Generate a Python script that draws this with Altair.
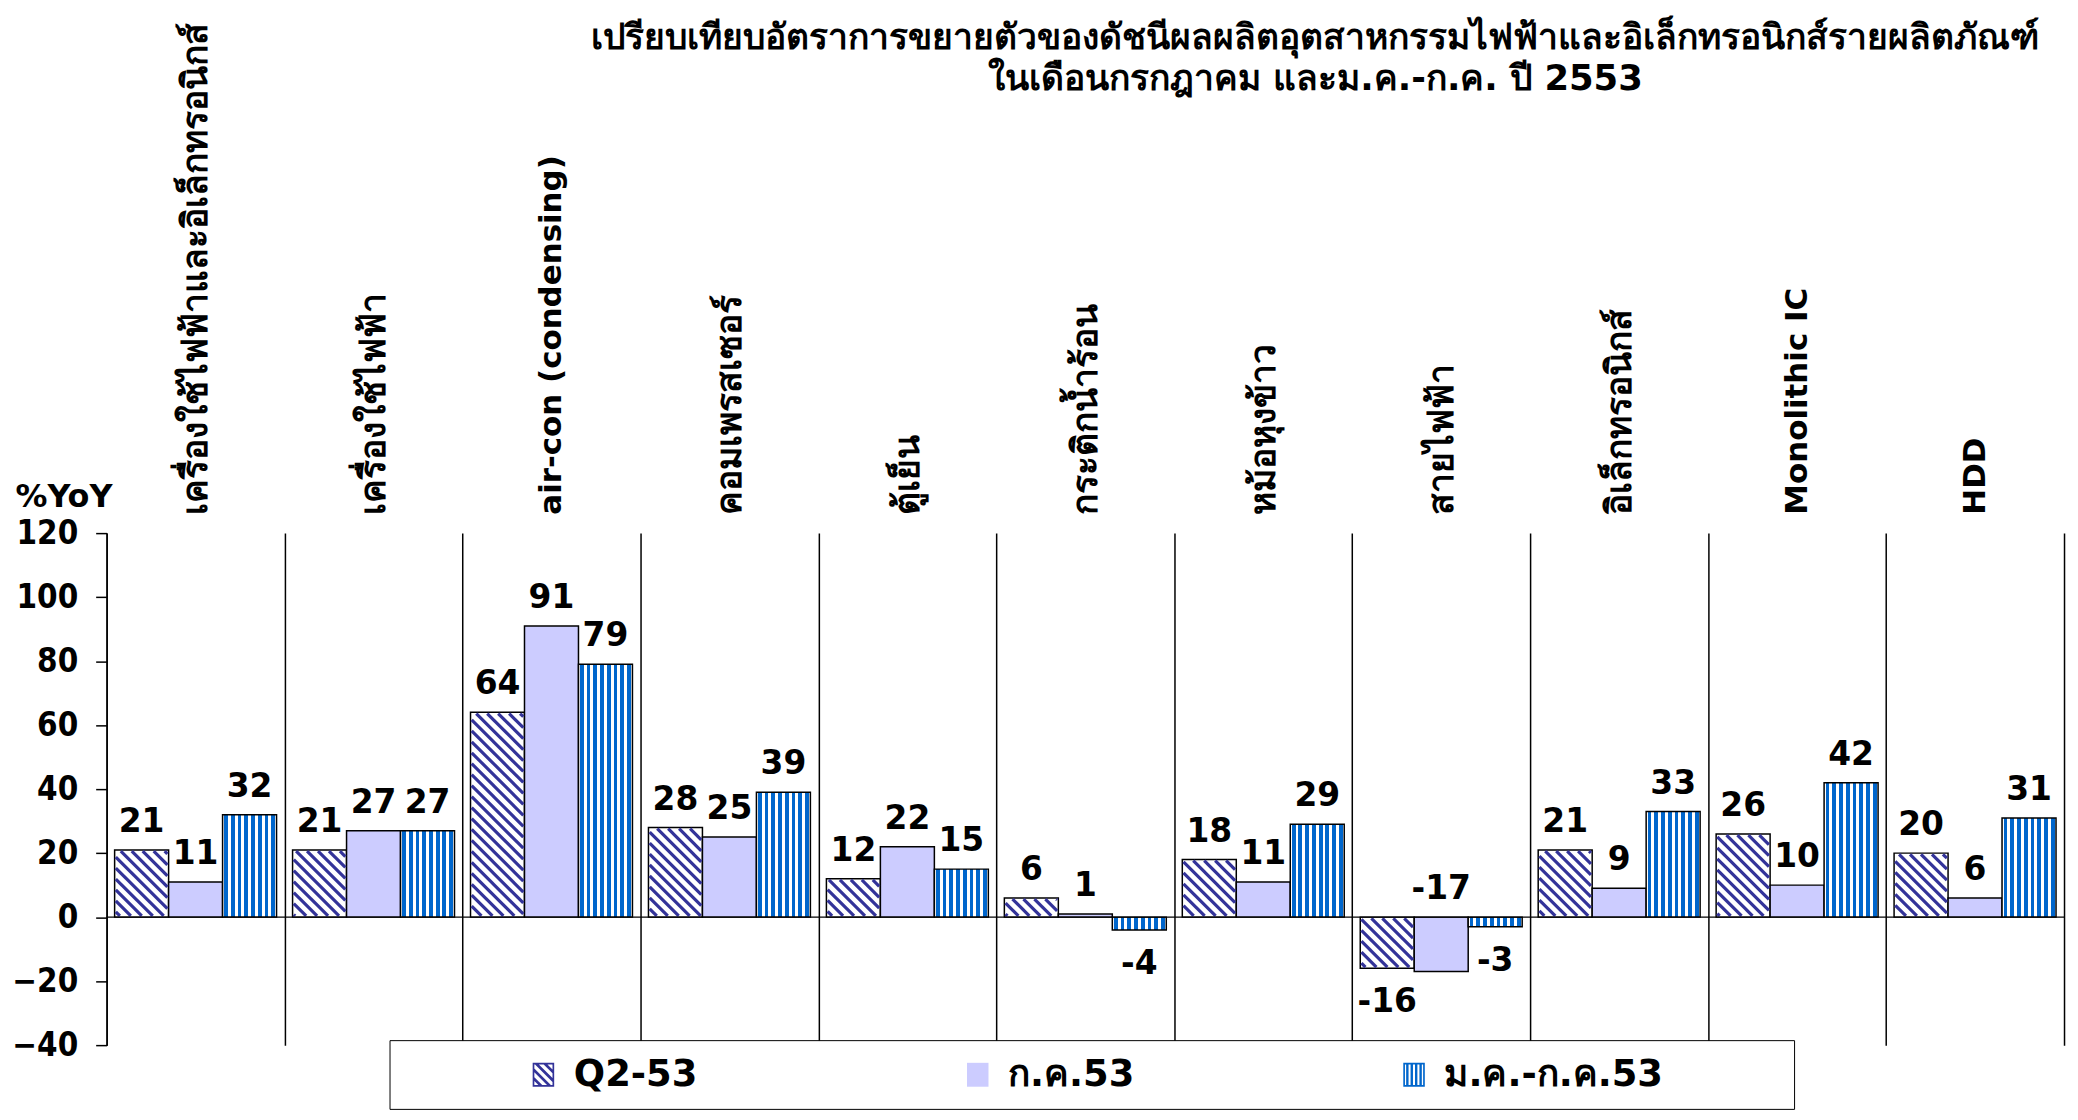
import math
import altair as alt
import pandas as pd

# ---------------- data ----------------
categories = [
    "เครื่องใช้ไฟฟ้าและอิเล็กทรอนิกส์",
    "เครื่องใช้ไฟฟ้า",
    "air-con (condensing)",
    "คอมเพรสเซอร์",
    "ตู้เย็น",
    "กระติกน้ำร้อน",
    "หม้อหุงข้าว",
    "สายไฟฟ้า",
    "อิเล็กทรอนิกส์",
    "Monolithic IC",
    "HDD",
]
series_names = ["Q2-53", "ก.ค.53", "ม.ค.-ก.ค.53"]
q2_53 = [21, 21, 64, 28, 12, 6, 18, -16, 21, 26, 20]
jul_53 = [11, 27, 91, 25, 22, 1, 11, -17, 9, 10, 6]
jan_jul_53 = [32, 27, 79, 39, 15, -4, 29, -3, 33, 42, 31]
y_ticks = [-40, -20, 0, 20, 40, 60, 80, 100, 120]
title_lines = [
    "เปรียบเทียบอัตราการขยายตัวของดัชนีผลผลิตอุตสาหกรรมไฟฟ้าและอิเล็กทรอนิกส์รายผลิตภัณฑ์",
    "ในเดือนกรกฎาคม และม.ค.-ก.ค. ปี 2553",
]
y_title = "%YoY"

# ---------------- layout / style ----------------
W, H = 1965, 514
Y_MIN, Y_MAX = -40, 120
N = len(categories)
OUTER = 0.045
BAR_W = (1 - 2 * OUTER) / 3
NAVY = "#333399"
LAVENDER = "#CCCCFF"
BLUE = "#0066CC"
NUM_FONT = "DejaVu Sans Condensed"
TXT_FONT = "DejaVu Sans"

values = [q2_53, jul_53, jan_jul_53]
rows = []
for i, cat in enumerate(categories):
    neg_count = 0
    for j, s in enumerate(series_names):
        v = values[j][i]
        x0 = i + OUTER + j * BAR_W
        above = True
        if v < 0:
            above = (neg_count % 2 == 1)
            neg_count += 1
        rows.append(dict(cat=cat, series=s, value=v, x0=x0, x1=x0 + BAR_W,
                         xc=x0 + BAR_W / 2, zero=0, label=str(v), above=above,
                         anchor=(max(v, 0) if above else v)))
df = pd.DataFrame(rows)

# diagonal hatch segments for the Q2 bars (45 deg in screen space)
sx = W / N
sy = H / (Y_MAX - Y_MIN)
PERIOD = 11.0
INSET = 1.2
hatch = []
for _, r in df[df.series == series_names[0]].iterrows():
    X0 = r.x0 * sx + INSET
    X1 = r.x1 * sx - INSET
    Yl = (min(0, r.value) - Y_MIN) * sy + INSET
    Yh = (max(0, r.value) - Y_MIN) * sy - INSET
    kmin = math.floor((X0 + Yl) / PERIOD)
    kmax = math.ceil((X1 + Yh) / PERIOD)
    for k in range(kmin, kmax + 1):
        c = k * PERIOD
        xa = max(X0, c - Yh)
        xb = min(X1, c - Yl)
        if xb - xa > 0.6:
            hatch.append(dict(hx=xa / sx, hy=(c - xa) / sy + Y_MIN,
                              hx2=xb / sx, hy2=(c - xb) / sy + Y_MIN))
hatch_df = pd.DataFrame(hatch)

# vertical stripe gradient for the third series
NSTRIPE = 8
stops = []
for k in range(NSTRIPE):
    a = k / NSTRIPE
    b1 = a + 0.22 / NSTRIPE
    b2 = a + 0.78 / NSTRIPE
    stops += [alt.GradientStop(offset=round(a, 4), color="white"),
              alt.GradientStop(offset=round(b1, 4), color="white"),
              alt.GradientStop(offset=round(b1, 4), color=BLUE),
              alt.GradientStop(offset=round(b2, 4), color=BLUE),
              alt.GradientStop(offset=round(b2, 4), color="white")]
stops.append(alt.GradientStop(offset=1, color="white"))
stripe_fill = alt.LinearGradient(gradient="linear", stops=stops, x1=0, x2=1, y1=0, y2=0)


# legend symbol shapes (custom SVG paths in the unit square)
def clip(poly, f):
    out = []
    n = len(poly)
    for idx in range(n):
        p, q = poly[idx], poly[(idx + 1) % n]
        fp, fq = f(p), f(q)
        if fp >= 0:
            out.append(p)
        if (fp >= 0) != (fq >= 0):
            t = fp / (fp - fq)
            out.append((p[0] + t * (q[0] - p[0]), p[1] + t * (q[1] - p[1])))
    return out


def poly_path(poly):
    return "M" + "L".join(f"{x:.3f},{y:.3f}" for x, y in poly) + "Z"


OX, OY, IX, IY = 0.9, 1.0, 0.76, 0.86
frame = (poly_path([(-OX, -OY), (OX, -OY), (OX, OY), (-OX, OY)])
         + poly_path([(-IX, -IY), (-IX, IY), (IX, IY), (IX, -IY)]))
inner = [(-IX, -IY), (IX, -IY), (IX, IY), (-IX, IY)]
diag = frame
cc = -2.0
while cc < 2.0:
    p = clip(inner, lambda pt, c0=cc: (pt[0] - pt[1]) - c0)
    p = clip(p, lambda pt, c0=cc: c0 + 0.32 - (pt[0] - pt[1]))
    if len(p) >= 3:
        diag += poly_path(p)
    cc += 0.72
vert = frame
for k in range(4):
    xa = -IX + 0.1 + k * 0.37
    vert += poly_path([(xa, -IY), (xa + 0.2, -IY), (xa + 0.2, IY), (xa, IY)])
solid = poly_path([(-OX, -OY), (OX, -OY), (OX, OY), (-OX, OY)])

# ---------------- chart ----------------
x_scale = alt.Scale(domain=[0, N], nice=False, zero=False)
y_scale = alt.Scale(domain=[Y_MIN, Y_MAX], nice=False, zero=False)

label_array = "[" + ",".join("'" + c + "'" for c in categories) + "]"
latin_test = " || ".join(f"datum.value == {i + 0.5}" for i, c in enumerate(categories)
                         if c.isascii())

grid_axis = alt.Axis(values=list(range(N + 1)), grid=True, gridColor="black", gridWidth=1.5,
                     gridOpacity=1, labels=False, ticks=False, domain=False, title=None,
                     orient="bottom")
top_axis = alt.Axis(values=[i + 0.5 for i in range(N)], orient="top", grid=False, ticks=False,
                    domain=False, title=None, labelExpr=label_array + "[floor(datum.value)]",
                    labelAngle=270, labelAlign="left", labelBaseline="middle", labelPadding=19,
                    labelFont=TXT_FONT,
                    labelFontSize={"condition": {"test": latin_test, "value": 31}, "value": 35.5},
                    labelFontWeight="bold",
                    labelColor="black", labelLimit=2000, labelOverlap=False, labelFlush=False)
y_axis = alt.Axis(values=y_ticks, orient="left", title=y_title, titleAngle=0, titleX=-92, titleY=-27,
                  titleAlign="left", titleBaseline="alphabetic", titleFont=TXT_FONT,
                  titleFontSize=32, titleFontWeight="bold", titleColor="black",
                  labelFont=NUM_FONT, labelFontSize=33, labelFontWeight="bold",
                  labelColor="black", labelPadding=18, tickSize=11, tickColor="black",
                  tickWidth=1.5, domainColor="black", domainWidth=1.5, grid=False)


def Y(field):
    return alt.Y(field, scale=y_scale, axis=y_axis)


base = alt.Chart(df)

q2_bars = base.transform_filter(alt.datum.series == series_names[0]).mark_rect(
    fill="white", stroke="black", strokeWidth=1.5).encode(
    x=alt.X("x0:Q", scale=x_scale, axis=grid_axis),
    x2="x1:Q",
    y=Y("zero:Q"),
    y2="value:Q",
)
jul_bars = base.transform_filter(alt.datum.series == series_names[1]).mark_rect(
    fill=LAVENDER, stroke="black", strokeWidth=1.5).encode(
    x=alt.X("x0:Q", scale=x_scale, axis=top_axis),
    x2="x1:Q",
    y=Y("zero:Q"),
    y2="value:Q",
)
ytd_bars = base.transform_filter(alt.datum.series == series_names[2]).mark_rect(
    fill=stripe_fill, stroke="black", strokeWidth=1.5).encode(
    x=alt.X("x0:Q", scale=x_scale, axis=None),
    x2="x1:Q",
    y=Y("zero:Q"),
    y2="value:Q",
)
hatch_lines = alt.Chart(hatch_df).mark_rule(color=NAVY, strokeWidth=3.2).encode(
    x=alt.X("hx:Q", scale=x_scale, axis=None),
    x2="hx2:Q",
    y=Y("hy:Q"),
    y2="hy2:Q",
)
zero_line = alt.Chart(pd.DataFrame({"z": [0]})).mark_rule(color="black", strokeWidth=1.5).encode(
    y=Y("z:Q")
)
text_kw = dict(font=TXT_FONT, fontSize=33, fontWeight="bold", color="black", align="center")
labels_above = base.transform_filter(alt.datum.above).mark_text(
    baseline="alphabetic", dy=-18, **text_kw).encode(
    x=alt.X("xc:Q", scale=x_scale, axis=None),
    y=Y("anchor:Q"),
    text="label:N",
)
labels_below = base.transform_filter(~alt.datum.above).mark_text(
    baseline="top", dy=18, **text_kw).encode(
    x=alt.X("xc:Q", scale=x_scale, axis=None),
    y=Y("anchor:Q"),
    text="label:N",
)

PAD_CHARS = "\u2800" * 4
legend_kw = dict(
    orient="none", legendX=284, legendY=509, direction="horizontal",
    title=" ", titleOrient="left", titlePadding=120, titleFontSize=34,
    fillColor="white", strokeColor="black", padding=16,
    columnPadding=262, gridAlign="each",
    symbolSize=576, symbolStrokeWidth=0, symbolOpacity=1,
    labelFont=TXT_FONT, labelFontSize=37, labelFontWeight="bold", labelColor="black",
    labelOffset=12, labelLimit=2000,
    labelExpr="datum.label == '" + series_names[2] + "' ? datum.label + '" + PAD_CHARS
              + "' : datum.label",
)
legend_points = base.mark_point(filled=True, opacity=0).encode(
    x=alt.X("xc:Q", scale=x_scale, axis=None),
    y=Y("value:Q"),
    fill=alt.Fill("series:N", scale=alt.Scale(domain=series_names, range=[NAVY, LAVENDER, BLUE]),
                  legend=alt.Legend(**legend_kw)),
    shape=alt.Shape("series:N", scale=alt.Scale(domain=series_names, range=[diag, solid, vert]),
                    legend=alt.Legend(**legend_kw)),
)

chart = alt.layer(
    q2_bars, jul_bars, ytd_bars, hatch_lines, zero_line, labels_above, labels_below, legend_points
).properties(
    width=W, height=H,
    title=alt.TitleParams(text=title_lines, anchor="middle", frame="group", dx=231, offset=-74,
                          baseline="top", font=TXT_FONT, fontSize=35.5, fontWeight="bold",
                          color="black", lineHeight=41),
    autosize=alt.AutoSizeParams(type="none"),
    padding={"left": 99, "top": 525, "right": 6, "bottom": 70},
    background="white",
).configure_view(stroke=None)

chart.save("out.html", embed_options={"renderer": "svg", "actions": False})
